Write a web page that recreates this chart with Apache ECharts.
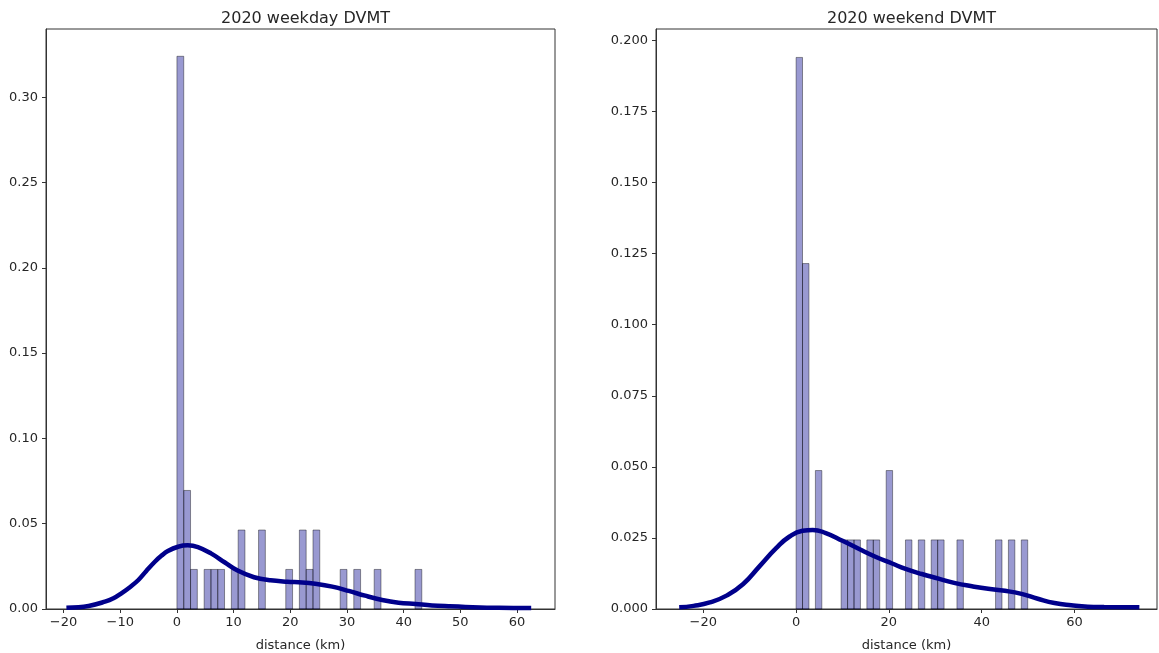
<!DOCTYPE html>
<html>
<head>
<meta charset="utf-8">
<script src="https://cdn.jsdelivr.net/npm/echarts@6/dist/echarts.min.js"></script>
<style>
html,body{margin:0;padding:0;background:#fff;}
#chart{width:1159px;height:653px;}
</style>
</head>
<body>
<div id="chart"></div>
<script>
// ---- data ----
var leftTitle = '2020 weekday DVMT';
var rightTitle = '2020 weekend DVMT';
var xAxisName = 'distance (km)';

var leftBinWidth = 1.2;
var leftBinStart = [0, 1.2, 2.4, 4.8, 6.0, 7.2, 9.6, 10.8, 14.4, 19.2, 21.6, 22.8, 24.0, 28.8, 31.2, 34.8, 42.0];
var leftDensity  = [0.324, 0.0695, 0.0232, 0.0232, 0.0232, 0.0232, 0.0232, 0.0463, 0.0463, 0.0232, 0.0463, 0.0232, 0.0463, 0.0232, 0.0232, 0.0232, 0.0232];

var rightBinWidth = 1.387;
var rightBinStart = [0, 1.387, 4.161, 9.709, 11.096, 12.483, 15.257, 16.644, 19.418, 23.579, 26.353, 29.127, 30.514, 34.675, 42.997, 45.771, 48.545];
var rightDensity  = [0.194, 0.1215, 0.0487, 0.0243, 0.0243, 0.0243, 0.0243, 0.0243, 0.0487, 0.0243, 0.0243, 0.0243, 0.0243, 0.0243, 0.0243, 0.0243, 0.0243];

var leftKdeX = [-19.5, -15.6, -12.7, -11.2, -9.8, -8.3, -6.8, -5.4, -3.9, -2.7, -1.6, 0.2, 1.9, 3.7, 6.0, 8.4, 10.7, 13.6, 16.5, 19.5, 22.1, 24.4, 27.4, 30.3, 33.2, 36.2, 39.1, 42.1, 45.0, 47.9, 50.9, 56.8, 62.5];
var leftKdeY = [0.0007, 0.0018, 0.0043, 0.0063, 0.0092, 0.0128, 0.017, 0.0223, 0.0277, 0.0313, 0.034, 0.0365, 0.0373, 0.0363, 0.0326, 0.0274, 0.0225, 0.0186, 0.0168, 0.016, 0.0156, 0.0148, 0.0131, 0.0106, 0.0078, 0.0053, 0.0037, 0.0029, 0.0021, 0.0016, 0.0012, 0.0007, 0.0006];

var rightKdeX = [-25.2, -22.1, -18.6, -15, -11.4, -7.9, -4.3, -1.4, 1.4, 3.6, 6.4, 10, 13.6, 17.1, 20.7, 23.6, 27.1, 30.7, 34.3, 37.9, 41.4, 45, 48.6, 52.1, 55.7, 59.3, 62.9, 66.4, 74];
var rightKdeY = [0.0006, 0.0011, 0.0023, 0.0047, 0.0088, 0.015, 0.0214, 0.0255, 0.0275, 0.0278, 0.0267, 0.024, 0.0211, 0.0184, 0.016, 0.0141, 0.0123, 0.0107, 0.0091, 0.008, 0.0071, 0.0064, 0.0053, 0.0036, 0.0021, 0.0013, 0.0008, 0.0007, 0.0006];

var leftXTicks = [-20, -10, 0, 10, 20, 30, 40, 50, 60];
var rightXTicks = [-20, 0, 20, 40, 60];
var leftXRange = [-23.1, 66.7];
var rightXRange = [-30.2, 77.8];
var leftYMax = 0.34, leftYStep = 0.05;
var rightYMax = 0.204, rightYStep = 0.025;

// ---- build ----
var FONT = 'DejaVu Sans';
var TXT = '#262626';
var AX = '#333';
var FS = 13;

function bars(start, dens, w) {
  return start.map(function (s, i) { return [s, s + w, dens[i]]; });
}
function pairs(xs, ys) { return xs.map(function (x, i) { return [x, ys[i]]; }); }
function fmtX(v) { return v < 0 ? '\u2212' + Math.abs(v) : String(v); }

function renderBar(params, api) {
  var p0 = api.coord([api.value(0), 0]);
  var p1 = api.coord([api.value(1), api.value(2)]);
  return {
    type: 'rect',
    shape: { x: p0[0], y: p1[1], width: p1[0] - p0[0], height: p0[1] - p1[1] },
    style: { fill: 'rgba(0,0,139,0.4)', stroke: 'rgba(0,0,0,0.4)', lineWidth: 1 }
  };
}

function xAxisDef(idx, range, ticks) {
  return {
    type: 'value', gridIndex: idx, min: range[0], max: range[1],
    name: xAxisName, nameLocation: 'middle', nameGap: 30,
    nameTextStyle: { fontFamily: FONT, fontSize: FS, color: TXT },
    splitLine: { show: false },
    axisLine: { show: true, onZero: false, lineStyle: { color: AX, width: 1 } },
    axisTick: { show: true, length: 4, customValues: ticks, lineStyle: { color: AX } },
    axisLabel: { customValues: ticks, formatter: fmtX, fontFamily: FONT, fontSize: FS, color: TXT, margin: 7 }
  };
}
function yAxisDef(idx, max, step, digits) {
  return {
    type: 'value', gridIndex: idx, min: 0, max: max, interval: step,
    splitLine: { show: false },
    axisLine: { show: true, onZero: false, lineStyle: { color: AX, width: 1 } },
    axisTick: { show: true, length: 4, lineStyle: { color: AX } },
    axisLabel: { showMaxLabel: false, formatter: function (v) { return v.toFixed(digits); },
      fontFamily: FONT, fontSize: FS, color: TXT, margin: 8 }
  };
}

var chart = echarts.init(document.getElementById('chart'), null, { renderer: 'canvas' });
chart.setOption({
  backgroundColor: '#fff',
  animation: false,
  title: [
    { text: leftTitle, left: 300.5, top: 6, textAlign: 'center',
      textStyle: { fontFamily: FONT, fontSize: 16, fontWeight: 'normal', color: TXT } },
    { text: rightTitle, left: 906.5, top: 6, textAlign: 'center',
      textStyle: { fontFamily: FONT, fontSize: 16, fontWeight: 'normal', color: TXT } }
  ],
  grid: [
    { left: 46, top: 29, width: 509, height: 580, show: true, borderColor: AX, borderWidth: 1,
      backgroundColor: 'transparent', containLabel: false, outerBoundsMode: 'none' },
    { left: 656, top: 29, width: 501, height: 580, show: true, borderColor: AX, borderWidth: 1,
      backgroundColor: 'transparent', containLabel: false, outerBoundsMode: 'none' }
  ],
  xAxis: [xAxisDef(0, leftXRange, leftXTicks), xAxisDef(1, rightXRange, rightXTicks)],
  yAxis: [yAxisDef(0, leftYMax, leftYStep, 2), yAxisDef(1, rightYMax, rightYStep, 3)],
  series: [
    { type: 'custom', xAxisIndex: 0, yAxisIndex: 0, renderItem: renderBar,
      data: bars(leftBinStart, leftDensity, leftBinWidth), z: 2 },
    { type: 'custom', xAxisIndex: 1, yAxisIndex: 1, renderItem: renderBar,
      data: bars(rightBinStart, rightDensity, rightBinWidth), z: 2 },
    { type: 'line', xAxisIndex: 0, yAxisIndex: 0, data: pairs(leftKdeX, leftKdeY),
      showSymbol: false, smooth: 0.4, lineStyle: { color: '#00008B', width: 4.5 }, z: 3 },
    { type: 'line', xAxisIndex: 1, yAxisIndex: 1, data: pairs(rightKdeX, rightKdeY),
      showSymbol: false, smooth: 0.5, lineStyle: { color: '#00008B', width: 4.5 }, z: 3 }
  ]
});
</script>
</body>
</html>
